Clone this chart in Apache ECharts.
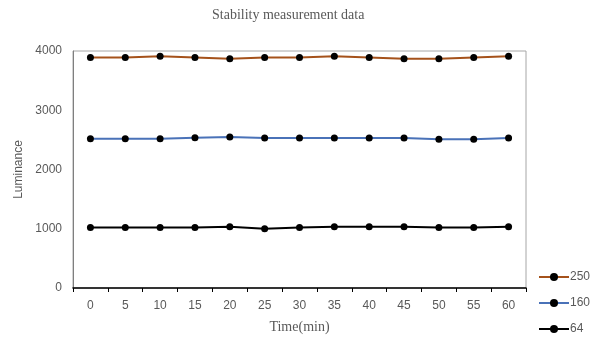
<!DOCTYPE html>
<html>
<head>
<meta charset="utf-8">
<script src="https://cdn.jsdelivr.net/npm/echarts@6/dist/echarts.min.js"></script>
<style>
  html, body { margin: 0; padding: 0; background: #fff; }
</style>
</head>
<body>
<div id="main" style="width: 608px;height:342px;"></div>
<script>
// time points (min)
var times = ['0', '5', '10', '15', '20', '25', '30', '35', '40', '45', '50', '55', '60'];
// luminance per gray level
var lum250 = [3890, 3890, 3910, 3890, 3870, 3890, 3890, 3910, 3890, 3870, 3870, 3890, 3910];
var lum160 = [2520, 2520, 2520, 2535, 2550, 2530, 2530, 2530, 2530, 2530, 2510, 2510, 2530];
var lum64 = [1020, 1020, 1020, 1020, 1035, 1000, 1020, 1035, 1035, 1035, 1020, 1020, 1035];

var myChart = echarts.init(document.getElementById('main'));

function makeSeries(name, data, color) {
  return {
    name: name,
    type: 'line',
    data: data,
    symbol: 'circle',
    symbolSize: 7,
    lineStyle: { color: color, width: 2 },
    itemStyle: { color: '#000' },
    emphasis: { disabled: true }
  };
}

var option = {
  animation: false,
  title: {
    text: 'Stability measurement data',
    left: 207,
    top: 3,
    textStyle: {
      fontFamily: 'Liberation Serif',
      fontWeight: 'normal',
      fontSize: 14,
      color: '#595959'
    }
  },
  legend: {
    orient: 'vertical',
    left: 538,
    top: 271,
    padding: 0,
    itemWidth: 30,
    itemHeight: 10,
    itemGap: 14,
    data: ['250', '160', '64'],
    textStyle: { color: '#595959', fontSize: 12, fontFamily: 'Liberation Sans', padding: [0, 0, 0, -4] }
  },
  grid: {
    left: 73,
    right: 82,
    top: 51,
    bottom: 54,
    show: true,
    borderColor: '#a6a6a6',
    borderWidth: 1
  },
  xAxis: {
    type: 'category',
    data: times,
    boundaryGap: true,
    name: 'Time(min)',
    nameLocation: 'middle',
    nameGap: 32,
    nameTextStyle: { fontFamily: 'Liberation Serif', fontSize: 14, color: '#595959' },
    axisLine: { lineStyle: { color: '#000', width: 1.5 } },
    axisTick: { show: true, length: 4, lineStyle: { color: '#000' } },
    axisLabel: { color: '#595959', fontSize: 12, fontFamily: 'Liberation Sans', margin: 12 },
    splitLine: { show: false }
  },
  yAxis: {
    type: 'value',
    min: 0,
    max: 4000,
    interval: 1000,
    name: 'Luminance',
    nameLocation: 'middle',
    nameGap: 47,
    nameTextStyle: { fontFamily: 'Liberation Sans', fontSize: 12, color: '#595959' },
    axisLine: { show: true, lineStyle: { color: '#7f7f7f' } },
    axisTick: { show: false },
    axisLabel: {
      color: '#595959', fontSize: 12, fontFamily: 'Liberation Sans', margin: 11,
      formatter: function (v) { return String(v); }
    },
    splitLine: { show: false }
  },
  series: [
    makeSeries('250', lum250, '#a5521b'),
    makeSeries('160', lum160, '#4a72b8'),
    makeSeries('64', lum64, '#000')
  ]
};

myChart.setOption(option);
</script>
</body>
</html>
